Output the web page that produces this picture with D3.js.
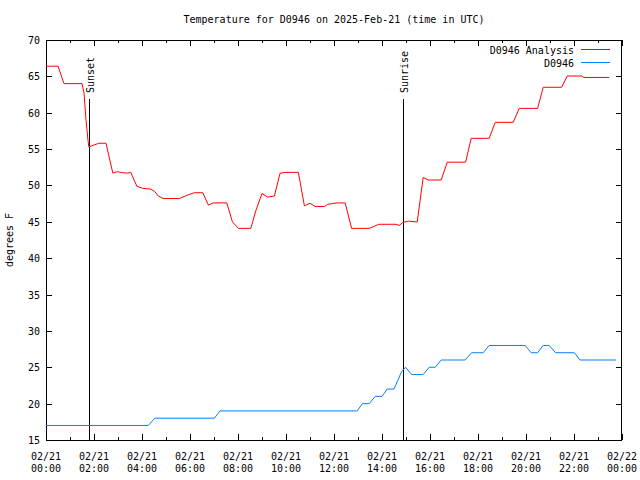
<!DOCTYPE html>
<html>
<head>
<meta charset="utf-8">
<script src="https://cdn.jsdelivr.net/npm/d3@7"></script>
<style>
  body { margin: 0; background: #fff; }
  svg { display: block; }
  text { font-family: "DejaVu Sans Mono", "Liberation Mono", monospace; font-size: 10px; fill: #000; }
</style>
</head>
<body>
<svg id="chart" width="640" height="480"></svg>
<script>
// ---------- DATA ----------
const chartTitle = "Temperature for D0946 on 2025-Feb-21 (time in UTC)";
const yLabel = "degrees F";
const seriesNames = ["D0946 Analysis", "D0946"];
const seriesColors = ["#ff0000", "#0080ff"];

const analysisTimes = ["00:00","00:30","00:45","01:30","01:35","01:40","01:45","01:47","02:12","02:30",
  "02:47","02:59","03:11","03:24","03:32","03:47","04:02","04:22","04:32","04:41","04:53","05:33",
  "06:00","06:11","06:32","06:46","06:52","06:58","07:32","07:46","08:01","08:32","08:45","09:00",
  "09:14","09:31","09:45","09:58","10:31","10:46","11:00","11:13","11:36","11:44","12:07","12:28",
  "12:44","13:28","13:37","13:52","14:35","14:43","14:52","15:06","15:28","15:43","15:56","16:28",
  "16:43","17:29","17:43","18:28","18:43","19:28","19:43","20:29","20:43","21:29","21:43","22:19",
  "22:25","23:28"];
const analysisTemps = [66.4,66.4,64.0,64.0,62.7,59.0,56.2,55.3,55.8,55.8,
  51.7,51.9,51.75,51.7,51.8,49.9,49.6,49.5,49.15,48.55,48.2,48.2,
  48.8,49.0,49.0,47.3,47.45,47.6,47.6,45.0,44.1,44.1,46.6,48.9,
  48.4,48.55,51.67,51.8,51.8,47.2,47.55,47.1,47.1,47.4,47.6,47.6,
  44.1,44.1,44.3,44.66,44.66,44.5,44.9,45.1,44.97,51.1,50.75,50.75,
  53.2,53.2,56.48,56.48,58.68,58.68,60.6,60.6,63.5,63.5,65.05,65.05,
  64.85,64.85];

const obsTimes = ["00:00","04:16","04:32","07:01","07:15","12:58","13:11","13:28","13:43","14:00",
  "14:13","14:30","14:49","14:59","15:14","15:43","15:58","16:13","16:28","17:28","17:44","18:13",
  "18:28","19:58","20:13","20:29","20:43","20:58","21:14","22:01","22:15","23:45"];
const obsTemps = [17,17,18,18,19,19,20,20,21,21,
  22,22,24.4,25,24,24,25,25,26,26,27,27,
  28,28,27,27,28,28,27,27,26,26];

const sunEvents = [{label: "Sunset", time: "01:47"}, {label: "Sunrise", time: "14:52"}];

const yTicks = [15,20,25,30,35,40,45,50,55,60,65,70];
const xTickDates = ["02/21","02/21","02/21","02/21","02/21","02/21","02/21","02/21","02/21","02/21","02/21","02/21","02/22"];
const xTickTimes = ["00:00","02:00","04:00","06:00","08:00","10:00","12:00","14:00","16:00","18:00","20:00","22:00","00:00"];

// ---------- SETUP ----------
const W = 640, H = 480;
const m = {left: 46, right: 18, top: 40, bottom: 40};
const parse = d3.timeParse("%Y-%m-%d %H:%M");
const day0 = parse("2025-02-21 00:00");
const day1 = parse("2025-02-22 00:00");
const t = s => parse("2025-02-21 " + s);

const x = d3.scaleTime().domain([day0, day1]).range([m.left, W - m.right]);
const y = d3.scaleLinear().domain([15, 70]).range([H - m.bottom, m.top]);

const svg = d3.select("#chart");

const analysis = analysisTimes.map((s, i) => ({t: t(s), v: analysisTemps[i]}));
const obs = obsTimes.map((s, i) => ({t: t(s), v: obsTemps[i]}));

// Title
svg.append("text").attr("x", (m.left + W - m.right) / 2).attr("y", 23)
  .attr("text-anchor", "middle").text(chartTitle);

// Y label
svg.append("text").attr("transform", `translate(13,${(m.top + H - m.bottom) / 2}) rotate(-90)`)
  .attr("text-anchor", "middle").text(yLabel);

// Tick marks
const g = svg.append("g").attr("shape-rendering", "crispEdges");
const hours = d3.range(0, 25);
hours.forEach(h => {
  const xx = Math.round(x(d3.timeHour.offset(day0, h))) + 0.5;
  const len = h % 2 === 0 ? 6 : 3;
  g.append("line").attr("x1", xx).attr("x2", xx).attr("y1", H - m.bottom).attr("y2", H - m.bottom - len).attr("stroke", "#000");
  g.append("line").attr("x1", xx).attr("x2", xx).attr("y1", m.top).attr("y2", m.top + len).attr("stroke", "#000");
});
yTicks.forEach(v => {
  const yy = Math.round(y(v)) + 0.5;
  g.append("line").attr("x1", m.left).attr("x2", m.left + 6).attr("y1", yy).attr("y2", yy).attr("stroke", "#000");
  g.append("line").attr("x1", W - m.right).attr("x2", W - m.right - 6).attr("y1", yy).attr("y2", yy).attr("stroke", "#000");
  svg.append("text").attr("x", m.left - 6).attr("y", yy + 3.5).attr("text-anchor", "end").text(v);
});

// X tick labels
xTickTimes.forEach((s, i) => {
  const xx = x(d3.timeHour.offset(day0, i * 2));
  const tx = svg.append("text").attr("x", xx).attr("text-anchor", "middle");
  tx.append("tspan").attr("x", xx).attr("y", 460).text(xTickDates[i]);
  tx.append("tspan").attr("x", xx).attr("y", 472).text(s);
});

// Frame
g.append("rect").attr("x", m.left + 0.5).attr("y", m.top + 0.5)
  .attr("width", W - m.left - m.right - 1).attr("height", H - m.top - m.bottom)
  .attr("fill", "none").attr("stroke", "#000");

// Sun event lines
sunEvents.forEach(e => {
  const xx = Math.round(x(t(e.time))) + 0.5;
  g.append("line").attr("x1", xx).attr("x2", xx).attr("y1", 99).attr("y2", H - m.bottom).attr("stroke", "#000");
  svg.append("text").attr("transform", `translate(${xx + 0.5},93) rotate(-90)`)
    .attr("text-anchor", "start").attr("dy", "0.35em").text(e.label);
});

// Lines
const line = d3.line().x(d => x(d.t)).y(d => y(d.v));
svg.append("path").datum(obs).attr("d", line).attr("fill", "none").attr("stroke", seriesColors[1]).attr("stroke-width", 1);
svg.append("path").datum(analysis).attr("d", line).attr("fill", "none").attr("stroke", seriesColors[0]).attr("stroke-width", 1);

// Legend
seriesNames.forEach((n, i) => {
  const yy = 50 + i * 13;
  svg.append("text").attr("x", 574).attr("y", yy + 3.5).attr("text-anchor", "end").text(n);
  svg.append("line").attr("x1", 581).attr("x2", 610).attr("y1", yy - 0.5).attr("y2", yy - 0.5)
    .attr("stroke", seriesColors[i]).attr("shape-rendering", "crispEdges");
});
</script>
</body>
</html>
